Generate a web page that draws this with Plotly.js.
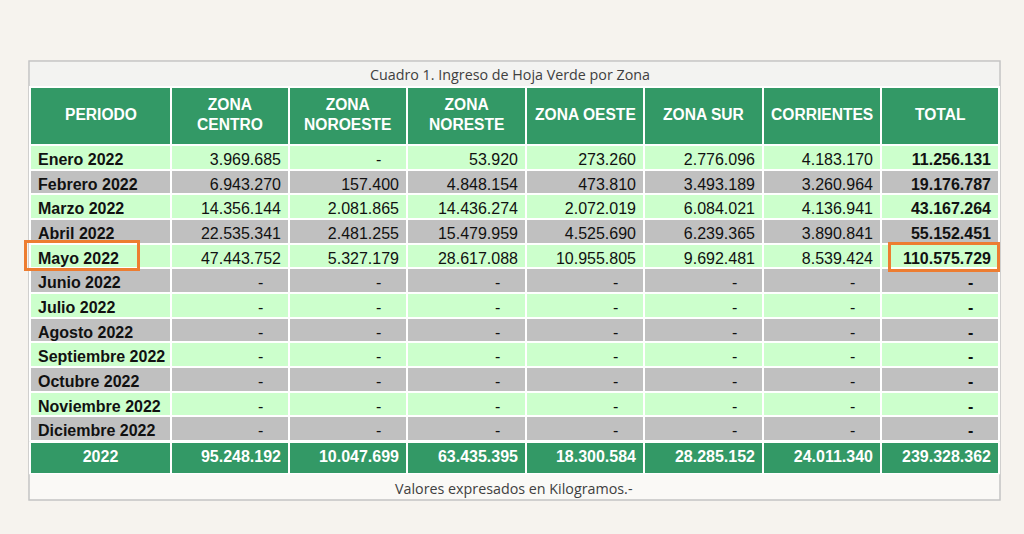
<!DOCTYPE html>
<html>
<head>
<meta charset="utf-8">
<script src="https://cdn.plot.ly/plotly-3.0.1.min.js"></script>
<style>html,body{margin:0;padding:0;background:#f6f3ee;}#chart{width:1024px;height:534px;}</style>
</head>
<body>
<div id="chart"></div>
<script>
// ---- data ----
var titleText = 'Cuadro 1. Ingreso de Hoja Verde por Zona';
var noteText = 'Valores expresados en Kilogramos.-';
var headers = ['PERIODO', 'ZONA<br>CENTRO', 'ZONA<br>NOROESTE', 'ZONA<br>NORESTE', 'ZONA OESTE', 'ZONA SUR', 'CORRIENTES', 'TOTAL'];
var periods = ['Enero 2022','Febrero 2022','Marzo 2022','Abril 2022','Mayo 2022','Junio 2022','Julio 2022','Agosto 2022','Septiembre 2022','Octubre 2022','Noviembre 2022','Diciembre 2022'];
var zonaCentro   = [3969685, 6943270, 14356144, 22535341, 47443752, 0,0,0,0,0,0,0];
var zonaNoroeste = [0, 157400, 2081865, 2481255, 5327179, 0,0,0,0,0,0,0];
var zonaNoreste  = [53920, 4848154, 14436274, 15479959, 28617088, 0,0,0,0,0,0,0];
var zonaOeste    = [273260, 473810, 2072019, 4525690, 10955805, 0,0,0,0,0,0,0];
var zonaSur      = [2776096, 3493189, 6084021, 6239365, 9692481, 0,0,0,0,0,0,0];
var corrientes   = [4183170, 3260964, 4136941, 3890841, 8539424, 0,0,0,0,0,0,0];
var total        = [11256131, 19176787, 43167264, 55152451, 110575729, 0,0,0,0,0,0,0];
var yearLabel = '2022';
var yearTotals = [95248192, 10047699, 63435395, 18300584, 28285152, 24011340, 239328362];
var highlightRow = 'Mayo 2022';

// ---- formatting ----
var NB = '\u00a0';
function fmt(v){
  if (!v) return '-' + NB+NB+NB+NB;
  return String(v).replace(/\B(?=(\d{3})+(?!\d))/g, '.');
}
function nowrap(s){ return s.replace(/ /g, NB); }
var GREEN = '#339966', LIGHT = '#ccffcc', GRAY = '#c0c0c0', ORANGE = '#ed7d31';
var FONT = 'Liberation Sans, Arial, sans-serif';
var dataCols = [zonaCentro, zonaNoroeste, zonaNoreste, zonaOeste, zonaSur, corrientes, total];
var cellValues = [periods.map(nowrap)].concat(dataCols.map(function(c){return c.map(fmt);}));
var rowColors = periods.map(function(_, i){ return i % 2 === 0 ? LIGHT : GRAY; });
var fillColors = cellValues.map(function(){ return rowColors; });
var colW = [141,118,118,119,118,119,118,118];

var W = 1024, H = 534;
var X0 = 30, X1 = 999;
var HEAD_TOP = 87, HEAD_H = 58, ROW_H = 24.65, FOOT_H = 32;
function py(p){ return 1 - p / H; }
function px(p){ return p / W; }

var bodyBottom = HEAD_TOP + HEAD_H + periods.length * ROW_H;

var body = {
  type: 'table',
  domain: {x: [px(X0), px(X1)], y: [py(bodyBottom + 1), py(HEAD_TOP)]},
  columnwidth: colW,
  header: {
    values: headers.map(function(){ return ''; }),
    height: HEAD_H,
    fill: {color: GREEN},
    line: {color: '#ffffff', width: 2}
  },
  cells: {
    values: cellValues,
    height: ROW_H,
    align: ['left','right','right','right','right','right','right','right'],
    fill: {color: fillColors},
    line: {color: '#ffffff', width: 2},
    font: {
      family: FONT, size: 16, color: '#111111',
      weight: ['bold','normal','normal','normal','normal','normal','normal','bold']
    }
  }
};

var footTop = bodyBottom + 1.5;
var foot = {
  type: 'table',
  domain: {x: [px(X0), px(X1)], y: [py(footTop + FOOT_H), py(footTop)]},
  columnwidth: colW,
  header: {
    values: [yearLabel].concat(yearTotals.map(fmt)),
    height: FOOT_H,
    align: ['center','right','right','right','right','right','right','right'],
    fill: {color: GREEN},
    line: {color: '#ffffff', width: 2},
    font: {family: FONT, size: 16, color: '#ffffff', weight: 'bold'}
  },
  cells: {values: []}
};

// header labels centred in their header cells (positions derived from column widths)
var sumW = colW.reduce(function(a,b){return a+b;}, 0);
var headerAnns = [];
var acc = 0;
headers.forEach(function(h, i){
  var cx = X0 + (acc + colW[i] / 2) / sumW * (X1 - X0);
  acc += colW[i];
  headerAnns.push({text: h, xref: 'paper', yref: 'paper', x: px(cx), y: py(HEAD_TOP + HEAD_H / 2 - 1),
    showarrow: false, xanchor: 'center', yanchor: 'middle', align: 'center',
    font: {family: FONT, size: 15.6, color: '#ffffff', weight: 'bold'}});
});

var hiIdx = periods.indexOf(highlightRow);
var rowTop = HEAD_TOP + HEAD_H + hiIdx * ROW_H;

var layout = {
  width: W, height: H,
  margin: {l: 0, r: 0, t: 0, b: 0},
  paper_bgcolor: '#f6f3ee',
  plot_bgcolor: '#f6f3ee',
  shapes: [
    {type: 'rect', xref: 'paper', yref: 'paper', x0: px(29), x1: px(1000), y0: py(500), y1: py(61),
     fillcolor: '#faf9f6', line: {color: '#c4c4c4', width: 1.5}, layer: 'below'},
    {type: 'rect', xref: 'paper', yref: 'paper', x0: px(30), x1: px(999), y0: py(87), y1: py(62),
     fillcolor: '#f3f3f1', line: {width: 0}, layer: 'below'}
  ],
  annotations: [
    {text: titleText, xref: 'paper', yref: 'paper', x: px(510), y: py(74), showarrow: false,
     xanchor: 'center', yanchor: 'middle', font: {family: 'Open Sans, sans-serif', size: 14.3, color: '#404040'}},
    {text: noteText, xref: 'paper', yref: 'paper', x: px(514), y: py(488), showarrow: false,
     xanchor: 'center', yanchor: 'middle', font: {family: 'Open Sans, sans-serif', size: 14.3, color: '#404040'}},
    {text: ' ', xref: 'paper', yref: 'paper', x: px(81.5), y: py(rowTop + 12), showarrow: false,
     xanchor: 'center', yanchor: 'middle', width: 110, height: 25, borderpad: 0,
     bordercolor: ORANGE, borderwidth: 3, bgcolor: 'rgba(0,0,0,0)'},
    {text: ' ', xref: 'paper', yref: 'paper', x: px(943.5), y: py(rowTop + 13), showarrow: false,
     xanchor: 'center', yanchor: 'middle', width: 106, height: 24, borderpad: 0,
     bordercolor: ORANGE, borderwidth: 3, bgcolor: 'rgba(0,0,0,0)'}
  ].concat(headerAnns)
};

Plotly.newPlot('chart', [body, foot], layout, {displayModeBar: false, staticPlot: true});
</script>
</body>
</html>
